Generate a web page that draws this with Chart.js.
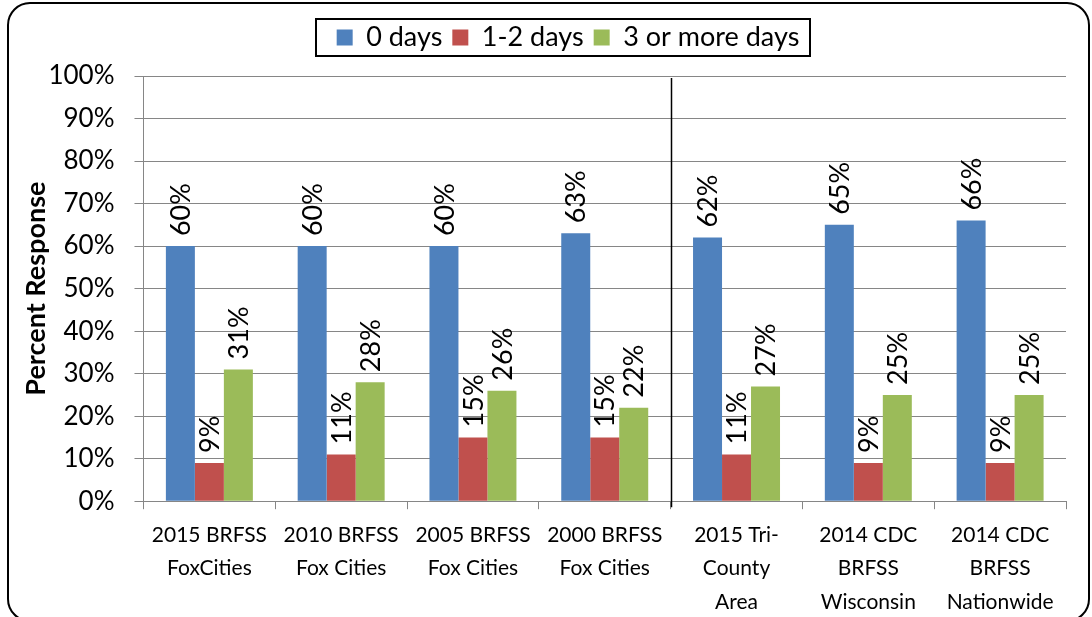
<!DOCTYPE html>
<html>
<head>
<meta charset="utf-8">
<script src="https://cdn.jsdelivr.net/npm/chart.js@4/dist/chart.umd.min.js"></script>
<style>
  html, body { margin: 0; padding: 0; background: #fff; }
  #wrap { width: 1092px; height: 617px; position: relative; }
</style>
</head>
<body>
<div id="wrap"><canvas id="c" width="1092" height="617"></canvas></div>
<script>
const categories = [
  ["2015 BRFSS", "FoxCities"],
  ["2010 BRFSS", "Fox Cities"],
  ["2005 BRFSS", "Fox Cities"],
  ["2000 BRFSS", "Fox Cities"],
  ["2015 Tri-", "County", "Area"],
  ["2014 CDC", "BRFSS", "Wisconsin"],
  ["2014 CDC", "BRFSS", "Nationwide"]
];
const seriesNames = ["0 days", "1-2 days", "3 or more days"];
const zeroDays = [60, 60, 60, 63, 62, 65, 66];
const oneTwoDays = [9, 11, 15, 15, 11, 9, 9];
const threePlusDays = [31, 28, 26, 22, 27, 25, 25];
const yTicks = [0, 10, 20, 30, 40, 50, 60, 70, 80, 90, 100];
const colors = ["#4F81BD", "#C0504D", "#9BBB59"];

const FONT = "Lato, 'Open Sans', sans-serif";
const GRID = "#868686";
const LEGEND_SHIFT = 26;

const frame = {
  id: "frame",
  beforeInit(chart) {
    const lg = chart.legend;
    if (lg) {
      const orig = lg.fit;
      lg.fit = function () { orig.call(this); this.height += 15; };
    }
  },
  afterLayout(chart) {
    const lg = chart.legend;
    if (lg) { lg.left += LEGEND_SHIFT; lg.right += LEGEND_SHIFT; }
  },
  beforeDraw(chart) {
    const ctx = chart.ctx;
    ctx.save();
    ctx.strokeStyle = "#000";
    ctx.lineWidth = 2;
    ctx.beginPath();
    ctx.roundRect(8, 3, 1081, 618, 22);
    ctx.stroke();
    ctx.restore();
  }
};

const extras = {
  id: "extras",
  afterDatasetsDraw(chart) {
    const ctx = chart.ctx;
    const xs = chart.scales.x;
    const area = chart.chartArea;
    // separator line between the Fox Cities group and the comparison group
    const sx = Math.round((xs.getPixelForTick(3) + xs.getPixelForTick(4)) / 2) + 0.5;
    ctx.save();
    ctx.strokeStyle = "#000";
    ctx.lineWidth = 1.5;
    ctx.beginPath();
    ctx.moveTo(sx, area.top + 2);
    ctx.lineTo(sx, area.bottom + 6);
    ctx.stroke();
    // rotated data labels
    ctx.fillStyle = "#000";
    ctx.font = "27px " + FONT;
    chart.data.datasets.forEach((ds, i) => {
      const meta = chart.getDatasetMeta(i);
      meta.data.forEach((bar, j) => {
        ctx.save();
        ctx.translate(bar.x + 1, bar.y - 10);
        ctx.rotate(-Math.PI / 2);
        ctx.textAlign = "left";
        ctx.textBaseline = "middle";
        ctx.fillText(ds.data[j] + "%", 0, 0);
        ctx.restore();
      });
    });
    ctx.restore();
  },
  afterDraw(chart) {
    const lg = chart.legend;
    if (!lg || !lg.legendHitBoxes || !lg.legendHitBoxes.length) return;
    const boxes = lg.legendHitBoxes;
    const left = Math.min(...boxes.map(b => b.left)) - 21;
    const right = Math.max(...boxes.map(b => b.left + b.width)) + 10;
    const top = Math.min(...boxes.map(b => b.top)) - 5;
    const bottom = Math.max(...boxes.map(b => b.top + b.height)) + 5;
    const ctx = chart.ctx;
    ctx.save();
    ctx.strokeStyle = "#000";
    ctx.lineWidth = 2;
    ctx.strokeRect(Math.round(left), Math.round(top), Math.round(right - left), Math.round(bottom - top));
    ctx.restore();
  }
};

new Chart(document.getElementById("c"), {
  type: "bar",
  data: {
    labels: categories,
    datasets: [
      { label: seriesNames[0], data: zeroDays, backgroundColor: colors[0] },
      { label: seriesNames[1], data: oneTwoDays, backgroundColor: colors[1] },
      { label: seriesNames[2], data: threePlusDays, backgroundColor: colors[2] }
    ]
  },
  options: {
    responsive: false,
    animation: false,
    devicePixelRatio: 1,
    layout: { padding: { top: 14, left: 18, right: 26, bottom: -11 } },
    datasets: { bar: { categoryPercentage: 0.66, barPercentage: 1.0 } },
    plugins: {
      legend: {
        position: "top",
        labels: {
          color: "#000",
          font: { family: FONT, size: 27 },
          boxWidth: 16,
          boxHeight: 16,
          padding: 10
        }
      },
      tooltip: { enabled: false }
    },
    scales: {
      x: {
        offset: true,
        grid: { display: true, drawOnChartArea: false, drawTicks: true, tickLength: 8, color: GRID, offset: true },
        border: { display: true, color: GRID, width: 1 },
        ticks: { color: "#000", font: { family: FONT, size: 21, lineHeight: 1.6 }, padding: 9, maxRotation: 0, autoSkip: false }
      },
      y: {
        min: 0,
        max: 100,
        afterBuildTicks(scale) { scale.ticks = yTicks.map(v => ({ value: v })); },
        grid: { color: GRID, tickLength: 9, drawTicks: true },
        border: { display: true, color: GRID, width: 1 },
        ticks: { color: "#000", font: { family: FONT, size: 26 }, padding: 20, callback: v => v + "%" },
        title: { display: true, text: "Percent Response", color: "#000", font: { family: FONT, size: 27, weight: "bold" }, padding: { top: 2, bottom: -24 } }
      }
    }
  },
  plugins: [frame, extras]
});
</script>
</body>
</html>
